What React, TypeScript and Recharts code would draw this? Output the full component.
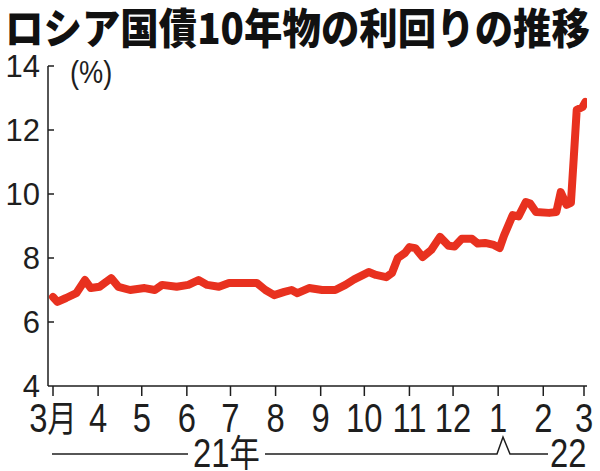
import { LineChart, Line, XAxis, YAxis } from 'recharts';

// days counted from 2021-03-01, yield in %
const days = [0, 3, 9, 16, 22, 26, 32, 40, 45, 53, 63, 70, 75, 85, 93, 100, 106, 114, 121, 132, 140, 146, 152, 159, 164, 168, 176, 185, 194, 201, 207, 217, 222, 229, 233, 237, 242, 245, 249, 254, 260, 266, 272, 276, 281, 288, 292, 297, 303, 307, 310, 316, 320, 325, 328, 332, 341, 346, 349, 353, 356, 358, 360, 364, 366];
const yields = [6.78, 6.63, 6.75, 6.9, 7.31, 7.06, 7.1, 7.37, 7.1, 7.0, 7.06, 7.0, 7.16, 7.1, 7.16, 7.31, 7.16, 7.1, 7.22, 7.22, 7.22, 7.0, 6.84, 6.94, 7.0, 6.9, 7.06, 7.0, 7.0, 7.16, 7.33, 7.56, 7.47, 7.4, 7.53, 8.0, 8.16, 8.34, 8.31, 8.03, 8.25, 8.66, 8.38, 8.36, 8.6, 8.6, 8.45, 8.47, 8.41, 8.31, 8.7, 9.34, 9.3, 9.75, 9.7, 9.44, 9.41, 9.44, 10.06, 9.66, 9.72, 11.16, 12.63, 12.72, 12.88];

const monthTicks = [0, 31, 61, 92, 122, 153, 184, 214, 245, 275, 306, 337, 365];
const monthLabels = ['3月', '4', '5', '6', '7', '8', '9', '10', '11', '12', '1', '2', '3'];
const yTicks = [4, 6, 8, 10, 12, 14];

const data = days.map((d, i) => ({ day: d, value: yields[i] }));

const INK = '#1e1e1e';

const XTick = (props: any) => {
  const { x, y, payload } = props;
  const i = monthTicks.indexOf(payload.value);
  const label = monthLabels[i] ?? '';
  const hasMonth = label.endsWith('月');
  return (
    <text
      transform={`translate(${x},${y + 34}) scale(0.82,1)`}
      textAnchor="middle"
      fontSize={40}
      fontFamily="'Liberation Sans', Arial, sans-serif"
      fill={INK}
    >
      {hasMonth ? (
        <>
          {label.slice(0, -1)}
          <tspan fontSize={36} fontFamily="'Noto Sans CJK JP', sans-serif">月</tspan>
        </>
      ) : (
        label
      )}
    </text>
  );
};

const YTick = (props: any) => {
  const { x, y, payload } = props;
  return (
    <g>
      {payload.value !== 4 && (
        <line x1={x + 8} y1={y} x2={x + 14} y2={y} stroke={INK} strokeWidth={1.5} />
      )}
      <text
        x={x}
        y={y}
        dy="0.36em"
        textAnchor="end"
        fontSize={31}
        fontFamily="'Liberation Sans', Arial, sans-serif"
        fill={INK}
      >
        {payload.value}
      </text>
    </g>
  );
};

export default function App() {
  return (
    <div style={{ position: 'absolute', left: 0, top: 0, width: 600, height: 471, background: '#fff' }}>
      <LineChart
        width={600}
        height={471}
        data={data}
        margin={{ top: 66, right: 13, left: 0, bottom: 0 }}
      >
        <XAxis
          dataKey="day"
          type="number"
          domain={[-3.44, 367.06]}
          allowDataOverflow
          ticks={monthTicks}
          interval={0}
          height={85}
          tickSize={10}
          tickMargin={2}
          axisLine={{ stroke: INK, strokeWidth: 1.5 }}
          tickLine={{ stroke: INK, strokeWidth: 1.5 }}
          tick={<XTick />}
        />
        <YAxis
          type="number"
          domain={[4, 14]}
          ticks={yTicks}
          interval={0}
          width={48}
          tickSize={0}
          tickMargin={8}
          axisLine={{ stroke: INK, strokeWidth: 1.5 }}
          tickLine={false}
          tick={<YTick />}
        />
        <Line
          type="linear"
          dataKey="value"
          stroke="#e8311f"
          strokeWidth={8}
          strokeLinejoin="round"
          strokeLinecap="round"
          dot={false}
          isAnimationActive={false}
        />
      </LineChart>
      <svg
        width={600}
        height={471}
        style={{ position: 'absolute', left: 0, top: 0, pointerEvents: 'none' }}
      >
        <text
          x={5}
          y={44}
          fontSize={42}
          fontWeight={900}
          fontFamily="'Noto Sans CJK JP', sans-serif"
          textLength={585}
          lengthAdjust="spacingAndGlyphs"
          fill="#111"
        >
          ロシア国債10年物の利回りの推移
        </text>
        <text
          transform="translate(70,83) scale(0.85,1)"
          fontSize={32}
          fontFamily="'Liberation Sans', Arial, sans-serif"
          fill={INK}
        >
          (%)
        </text>
        <g stroke={INK} strokeWidth={1.5} fill="none">
          <line x1={52} y1={454} x2={188} y2={454} />
          <polyline points="265,454 497,454 503,437 510,454 548,454" />
        </g>
        <text
          transform="translate(193,467) scale(0.82,1)"
          fontSize={40}
          fontFamily="'Liberation Sans', Arial, sans-serif"
          fill={INK}
        >
          21<tspan fontSize={37} fontFamily="'Noto Sans CJK JP', sans-serif">年</tspan>
        </text>
        <text
          transform="translate(550,467) scale(0.82,1)"
          fontSize={40}
          fontFamily="'Liberation Sans', Arial, sans-serif"
          fill={INK}
        >
          22
        </text>
      </svg>
    </div>
  );
}
